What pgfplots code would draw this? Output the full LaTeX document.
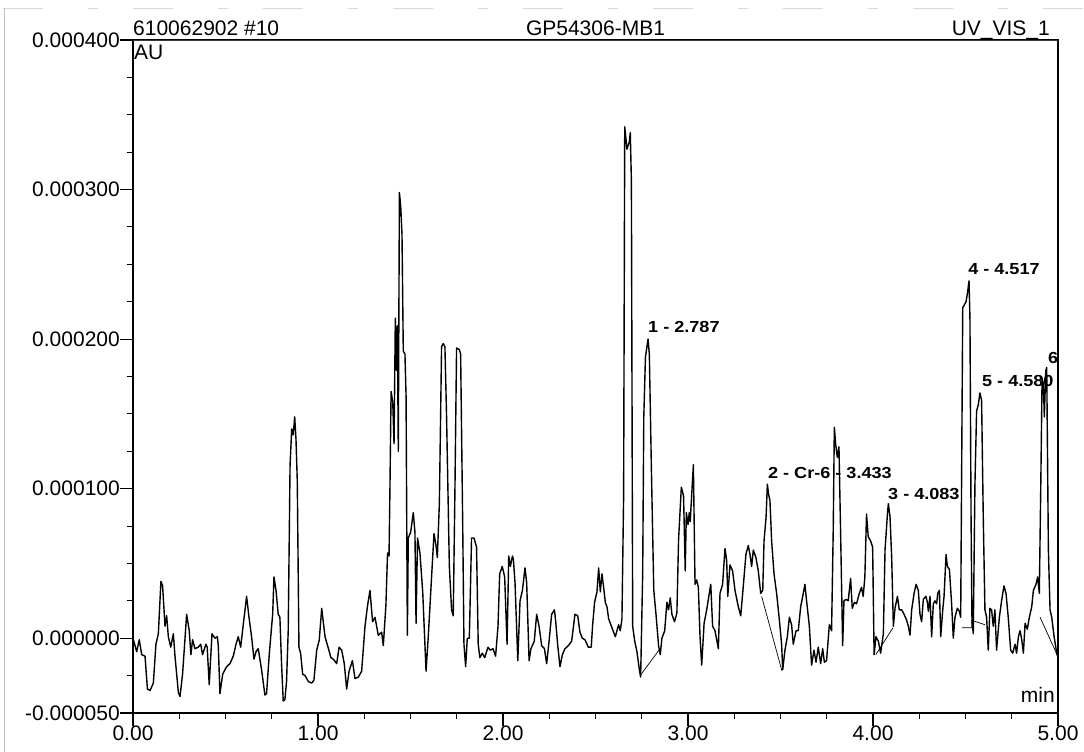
\documentclass[border=0pt]{standalone}
\usepackage{fontspec}
\setmainfont{Liberation Sans}
\usepackage{graphicx}
\usepackage{pgfplots}
\usepackage{pgfplotstable}
\pgfplotsset{compat=1.18}

% UV_VIS_1 trace: retention time (min) and absorbance (micro-AU)
\pgfplotstableread{
t a
0.000 0
0.020 -9
0.034 -1
0.047 -11
0.065 -12
0.078 -34
0.092 -35
0.110 -30
0.124 -4
0.137 3
0.151 38
0.160 35
0.173 8
0.182 15
0.191 1
0.204 -6
0.218 3
0.227 -12
0.245 -36
0.254 -39
0.268 -24
0.290 16
0.304 5
0.313 -11
0.322 -1
0.335 -7
0.353 -6
0.366 -4
0.376 -11
0.394 -4
0.401 -6
0.412 -31
0.427 3
0.443 0
0.456 1
0.461 -5
0.470 -37
0.485 -24
0.506 -19
0.524 -17
0.542 -12
0.557 -4
0.569 1
0.582 -6
0.596 9
0.614 28
0.627 14
0.641 1
0.654 -14
0.665 -9
0.677 -7
0.695 -21
0.713 -38
0.722 -37
0.737 -10
0.755 16
0.762 41
0.773 32
0.785 16
0.794 14
0.803 -17
0.812 -42
0.821 -41
0.830 -29
0.839 5
0.849 116
0.858 140
0.866 136
0.874 148
0.881 133
0.888 105
0.897 -6
0.906 -10
0.917 -24
0.930 -25
0.948 -29
0.966 -30
0.978 -28
0.993 -8
1.007 -1
1.020 20
1.038 1
1.052 -5
1.070 -13
1.083 -14
1.101 -17
1.114 -6
1.128 -8
1.142 -17
1.155 -34
1.168 -22
1.186 -15
1.200 -27
1.218 -26
1.236 -22
1.254 8
1.268 22
1.281 32
1.295 11
1.308 14
1.326 2
1.344 4
1.353 -5
1.367 22
1.376 57
1.384 55
1.389 101
1.395 165
1.404 158
1.411 130
1.418 214
1.425 179
1.429 209
1.434 125
1.440 298
1.447 289
1.454 270
1.461 192
1.470 190
1.476 162
1.483 2
1.488 67
1.501 71
1.515 84
1.524 71
1.530 10
1.538 67
1.551 57
1.566 31
1.584 -22
1.596 1
1.614 41
1.627 70
1.638 62
1.645 54
1.656 90
1.668 195
1.677 197
1.686 195
1.695 148
1.710 48
1.722 19
1.731 15
1.740 97
1.749 194
1.764 193
1.771 190
1.782 78
1.789 -4
1.798 -19
1.807 0
1.818 0
1.830 67
1.843 67
1.857 61
1.866 -4
1.875 -13
1.888 -10
1.901 -13
1.919 -6
1.931 -8
1.946 -7
1.960 -12
1.973 8
1.982 43
1.996 48
2.009 41
2.022 -4
2.031 55
2.040 48
2.051 55
2.056 53
2.065 37
2.080 -15
2.092 25
2.105 32
2.119 47
2.128 37
2.141 -15
2.151 -7
2.169 -2
2.182 16
2.195 8
2.209 -5
2.224 -7
2.236 -17
2.249 -2
2.263 16
2.278 19
2.285 11
2.296 -5
2.308 -19
2.321 -11
2.335 -7
2.353 -5
2.371 -2
2.389 16
2.404 15
2.416 4
2.429 0
2.443 -1
2.461 -6
2.477 -6
2.484 8
2.495 24
2.508 31
2.517 47
2.526 31
2.535 43
2.544 34
2.553 24
2.562 21
2.571 13
2.589 7
2.607 1
2.625 9
2.634 5
2.643 13
2.652 95
2.658 342
2.670 327
2.683 332
2.688 338
2.694 306
2.701 8
2.712 -2
2.724 -9
2.737 -21
2.744 -26
2.755 43
2.761 148
2.770 188
2.784 200
2.791 190
2.802 114
2.815 32
2.827 16
2.841 -5
2.850 -11
2.859 0
2.874 5
2.886 24
2.895 19
2.904 27
2.913 16
2.927 11
2.940 17
2.949 66
2.964 101
2.976 95
2.985 45
2.991 84
3.000 76
3.007 84
3.012 78
3.020 96
3.029 116
3.038 36
3.047 39
3.056 34
3.065 1
3.074 -18
3.087 10
3.101 19
3.115 30
3.123 36
3.133 8
3.146 5
3.164 -7
3.173 30
3.187 36
3.200 60
3.209 52
3.215 28
3.227 49
3.241 45
3.254 32
3.272 21
3.285 15
3.299 35
3.313 56
3.326 62
3.335 56
3.344 48
3.353 59
3.367 54
3.380 45
3.393 30
3.404 32
3.411 65
3.422 81
3.429 103
3.436 96
3.443 92
3.452 65
3.465 43
3.479 30
3.494 12
3.506 -4
3.512 -21
3.524 -8
3.537 1
3.548 14
3.560 9
3.569 -4
3.584 5
3.596 5
3.609 21
3.623 30
3.632 36
3.641 25
3.656 8
3.668 -18
3.681 -8
3.692 -16
3.704 -6
3.717 -17
3.728 -7
3.737 -16
3.749 -15
3.764 9
3.776 5
3.785 72
3.791 141
3.798 130
3.807 121
3.816 128
3.825 70
3.836 -5
3.843 25
3.854 26
3.866 25
3.879 40
3.888 20
3.899 24
3.911 23
3.926 30
3.938 34
3.947 28
3.956 41
3.965 83
3.974 68
3.987 65
3.998 61
4.006 -11
4.016 1
4.029 -2
4.041 -10
4.056 3
4.065 59
4.078 83
4.083 90
4.092 81
4.101 54
4.110 8
4.119 20
4.132 28
4.142 19
4.155 19
4.168 16
4.182 12
4.191 8
4.200 2
4.209 19
4.222 30
4.233 36
4.245 32
4.254 16
4.263 11
4.272 26
4.286 28
4.294 24
4.299 18
4.308 28
4.317 1
4.326 23
4.335 25
4.344 23
4.350 30
4.359 32
4.366 1
4.377 19
4.384 28
4.395 56
4.402 48
4.413 46
4.425 23
4.434 0
4.443 14
4.456 20
4.467 18
4.474 14
4.485 221
4.503 225
4.512 232
4.519 239
4.524 214
4.530 81
4.535 12
4.542 3
4.551 103
4.560 152
4.569 156
4.578 164
4.587 159
4.596 81
4.605 19
4.614 14
4.623 -8
4.632 20
4.641 19
4.650 8
4.659 19
4.668 -8
4.683 14
4.695 25
4.708 35
4.719 30
4.731 14
4.744 -8
4.755 -10
4.768 -4
4.776 -10
4.786 1
4.795 5
4.804 -1
4.813 -10
4.822 10
4.834 6
4.845 14
4.858 21
4.867 32
4.881 36
4.890 41
4.899 30
4.907 103
4.914 174
4.921 170
4.926 148
4.934 179
4.939 181
4.948 59
4.957 19
4.966 14
4.979 1
4.993 -10
5.000 -13
}\trace

% integration baselines under the numbered peaks
\pgfplotstableread{
t a
2.741 -25
2.849 -7
}\baseOne
\pgfplotstableread{
t a
3.398 28
3.508 -22
}\baseTwo
\pgfplotstableread{
t a
4.015 -11
4.108 7
}\baseThree
\pgfplotstableread{
t a
4.480 7
4.533 7
4.533 12
4.605 9
}\baseFour
\pgfplotstableread{
t a
4.903 14
4.995 -11
}\baseSix

\newcommand{\peaklbl}[1]{\scalebox{1.13}[1]{\fontsize{16}{18}\selectfont\bfseries #1}}
\newcommand{\bigfont}{\fontsize{21}{24}\selectfont}

\begin{document}
\begin{tikzpicture}[x=1pt,y=1pt]
\useasboundingbox (0,0) rectangle (1084,752);
% page edge lines
\draw[gray!50, line width=0.8pt] (4,0) -- (4,744);
\draw[gray!30, line width=0.7pt, dash pattern=on 40pt off 45pt on 10pt off 35pt] (3,744) -- (1084,744);
\begin{axis}[
  name=ax,
  at={(133pt,39pt)}, anchor=south west,
  scale only axis, width=925pt, height=673pt,
  xmin=0, xmax=5, ymin=-50, ymax=400,
  axis line style={line width=1.3pt},
  xtick={0,1,2,3,4,5},
  xticklabels={0.00,1.00,2.00,3.00,4.00,5.00},
  minor x tick num=3,
  ytick={-50,0,100,200,300,400},
  yticklabels={-0.000050,0.000000,0.000100,0.000200,0.000300,0.000400},
  minor ytick={-25,25,50,75,125,150,175,225,250,275,325,350,375},
  xtick pos=bottom, ytick pos=left,
  tick align=outside,
  major tick length=13pt, minor tick length=6pt,
  tick style={line width=1.1pt, black},
  tick label style={font=\bigfont, inner sep=0pt},
]
\addplot[black, line width=1.4pt, line join=round, no markers] table[x=t, y=a] {\trace};
\addplot[black, line width=0.7pt, no markers] table[x=t, y=a] {\baseOne};
\addplot[black, line width=0.7pt, no markers] table[x=t, y=a] {\baseTwo};
\addplot[black, line width=0.7pt, no markers] table[x=t, y=a] {\baseThree};
\addplot[black, line width=0.7pt, no markers] table[x=t, y=a] {\baseFour};
\addplot[black, line width=0.7pt, no markers] table[x=t, y=a] {\baseSix};
\node[anchor=base west, inner sep=0pt, yshift=7pt] at (axis cs:2.784,200) {\peaklbl{1 - 2.787}};
\node[anchor=base west, inner sep=0pt, yshift=6pt] at (axis cs:3.432,103) {\peaklbl{2 - Cr-6 - 3.433}};
\node[anchor=base west, inner sep=0pt, yshift=4pt] at (axis cs:4.081,90) {\peaklbl{3 - 4.083}};
\node[anchor=base west, inner sep=0pt, yshift=6pt] at (axis cs:4.514,239) {\peaklbl{4 - 4.517}};
\node[anchor=base west, inner sep=0pt, yshift=6pt] at (axis cs:4.589,164) {\peaklbl{5 - 4.580}};
\node[anchor=base west, inner sep=0pt, yshift=4pt] at (axis cs:4.946,181) {\peaklbl{6}};
\end{axis}
% top frame edge is lighter
\draw[gray!45!black, line width=0.9pt] (ax.north west) -- (ax.north east);
\node[anchor=base west, inner sep=0pt, font=\bigfont] at (133,716) {610062902 \#10};
\node[anchor=base, inner sep=0pt, font=\bigfont] at (595.5,716) {GP54306-MB1};
\node[anchor=base east, inner sep=0pt, font=\bigfont] at (1050,716) {UV\_VIS\_1};
\node[anchor=north west, inner sep=0pt, font=\bigfont] at (134,707) {AU};
\node[anchor=base east, inner sep=0pt, font=\bigfont] at (1055,49) {min};
\end{tikzpicture}
\end{document}
